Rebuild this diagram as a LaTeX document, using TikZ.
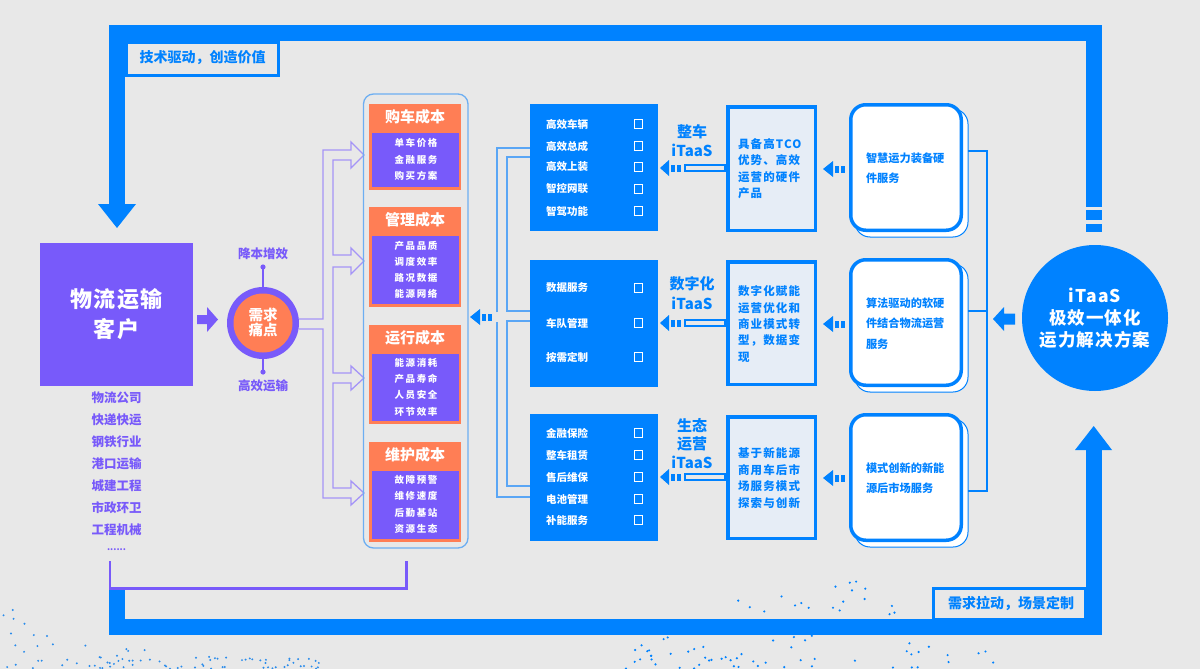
\documentclass[tikz,border=0pt]{standalone}
\usepackage{fontspec}
\setmainfont{Noto Sans CJK SC}
\newfontfamily\cjksp[LetterSpace=16]{Noto Sans CJK SC}
\newfontfamily\cjkmid[LetterSpace=10]{Noto Sans CJK SC}
\newfontfamily\cjkwide[LetterSpace=6]{Noto Sans CJK SC}
\usetikzlibrary{calc}
\definecolor{bg}{HTML}{E8E8E8}
\definecolor{mblue}{HTML}{0082FF}
\definecolor{lblue}{HTML}{E6EDF6}
\definecolor{brline}{HTML}{5AA6F5}
\definecolor{cline}{HTML}{6CAEF2}
\definecolor{purp}{HTML}{785AFA}
\definecolor{lpurp}{HTML}{A594F7}
\definecolor{orng}{HTML}{FF7E55}
\definecolor{dotc}{HTML}{2A8CEB}
\tikzset{
  every node/.style={inner sep=0pt, outer sep=0pt},
  band/.style={draw=mblue, line width=16pt, line join=miter},
  tagbox/.style={draw=mblue, line width=3pt, fill=bg},
  tagtext/.style={text=mblue, font=\bfseries\fontsize{14}{16}\selectfont},
  custbox/.style={fill=purp, anchor=north west, minimum width=153pt, minimum height=143pt},
  listtext/.style={text=purp, font=\bfseries\fontsize{12.5}{14}\selectfont},
  costhead/.style={fill=orng, anchor=north west, minimum width=92pt, minimum height=26pt, text=white, font=\bfseries\fontsize{15}{17}\selectfont},
  costbody/.style={fill=purp, draw=orng, line width=2.5pt, anchor=north west, minimum width=89.5pt},
  costitem/.style={text=white, font=\cjksp\bfseries\fontsize{9.5}{11}\selectfont},
  bluebox/.style={fill=mblue, anchor=north west, minimum width=128pt, minimum height=127pt},
  itemtext/.style={text=white, font=\bfseries\fontsize{10.5}{12}\selectfont, anchor=west},
  chk/.style={draw=white, line width=0.9pt},
  itaas/.style={text=mblue, align=center, font=\bfseries\fontsize{15}{18.5}\selectfont},
  lightbox/.style={fill=lblue, draw=mblue, line width=3.5pt, anchor=north west, minimum width=87.5pt},
  lighttext/.style={text=mblue, align=left, anchor=west, font=\cjkmid\bfseries\fontsize{11.5}{16.4}\selectfont},
  whitebox/.style={fill=white, draw=mblue, line width=3.5pt, rounded corners=15pt, anchor=north west, minimum width=110.5pt, minimum height=125.5pt},
  wshadow/.style={fill=white, draw=mblue, line width=1pt, rounded corners=15pt},
  whitetext/.style={text=mblue, align=left, anchor=west, font=\bfseries\fontsize{11.2}{20.5}\selectfont},
  pline/.style={draw=lpurp, line width=1.3pt, line join=miter},
  bline/.style={draw=brline, line width=1.3pt},
  dasharrow/.pic={
    \fill[mblue] (0,0) -- (10,-8) -- (10,8) -- cycle;
    \fill[mblue] (12,-3.5) rectangle (16,3.5);
    \fill[mblue] (18,-3.5) rectangle (22,3.5);
  },
  longarrow/.pic={
    \fill[mblue] (0,0) -- (9,-8) -- (9,8) -- cycle;
    \fill[mblue] (11,-3.5) rectangle (15,3.5);
    \fill[mblue] (17,-3.5) rectangle (21,3.5);
    \draw[mblue, line width=1.8pt] (25,-3.2) rectangle (65,3.2);
  }
}
\begin{document}
\begin{tikzpicture}[x=1pt,y=-1pt]
\path[fill=bg] (0,0) rectangle (1200,669);
\useasboundingbox (0,0) rectangle (1200,669);

% decorative dots
\pgfmathsetseed{12}
\foreach \i in {1,...,85}{
  \pgfmathsetmacro{\dx}{rnd*330}
  \pgfmathsetmacro{\tp}{598+62*(1-exp(-\dx/80))}
  \pgfmathsetmacro{\dy}{\tp+rnd*(669-\tp)}
  \fill[dotc] (\dx,\dy) circle (1.1);
}
\foreach \i in {1,...,95}{
  \pgfmathsetmacro{\dx}{620+rnd*380}
  \pgfmathsetmacro{\tp}{575+0.0012*(\dx-880)*(\dx-880)}
  \pgfmathsetmacro{\dy}{\tp+rnd*(669-\tp)}
  \fill[mblue] (\dx,\dy) circle (1.2);
}

% outer loop bands
\draw[band] (117,205) -- (117,33) -- (1093.7,33) -- (1093.7,207);
\fill[mblue] (98,204) -- (136,204) -- (117,228) -- cycle;
\fill[mblue] (1085.7,210) rectangle (1101.7,220);
\fill[mblue] (1085.7,224) rectangle (1101.7,232);
\draw[band] (117,588) -- (117,627) -- (1093.7,627) -- (1093.7,450);
\fill[mblue] (1075,450) -- (1112,450) -- (1093.7,426) -- cycle;

% tags
\draw[tagbox] (126.5,42.5) rectangle (278.5,75.5);
\node[tagtext] (tagtop) at (202.5,58) {技术驱动，创造价值};
\draw[tagbox] (933.2,588.1) rectangle (1085,619);
\node[tagtext] (tagbot) at (1011,603) {需求拉动，场景定制};

% customer
\node[custbox] (cust) at (40,243) {};
\node[text=white, align=center, font=\cjkwide\bfseries\fontsize{22}{30}\selectfont] (custt) at (cust.center) {物流运输\\客户};
\foreach \t [count=\k from 0] in {物流公司,快递快运,钢铁行业,港口运输,城建工程,市政环卫,工程机械}{
  \node[listtext] at (116.5,398+22*\k) {\t};
}
\node[listtext, font=\bfseries\fontsize{9}{10}\selectfont] (dots) at (116.5,550) {......};
\draw[draw=purp, line width=2.5pt, line join=miter] (110,561) -- (110,588.5) -- (406.5,588.5) -- (406.5,561);

% arrow customer -> pain
\fill[purp] (197,315) -- (207,315) -- (207,307) -- (218,319.5) -- (207,332) -- (207,324) -- (197,324) -- cycle;

% pain point
\node[circle, fill=purp, minimum size=72pt] (pain) at (263,323) {};
\node[circle, fill=orng, minimum size=59pt] (painin) at (263,323) {};
\node[text=white, align=center, font=\bfseries\fontsize{14.5}{15.5}\selectfont] at (263,322.5) {需求\\痛点};
\draw[purp, line width=1.6pt] (pain.north) -- (263,267);
\fill[purp] (263,267) circle (2.6);
\draw[purp, line width=1.6pt] (pain.south) -- (263,372);
\fill[purp] (263,372) circle (2.6);
\node[listtext] (up) at (263,254) {降本增效};
\node[listtext] (down) at (263,386) {高效运输};

% purple hollow arrows
\draw[pline] (298.8,319) -- (323,319) -- (323,150) -- (351,150) -- (351,142) -- (364,155) -- (351,168) -- (351,160) -- (333,160) -- (333,255) -- (351,255) -- (351,248) -- (364,261) -- (351,274) -- (351,267) -- (333,267) -- (333,373) -- (351,373) -- (351,366) -- (364,378) -- (351,390) -- (351,383) -- (333,383) -- (333,488) -- (351,488) -- (351,481) -- (364,493) -- (351,505) -- (351,498) -- (323,498) -- (323,329) -- (298.8,329);

% cost container
\draw[cline, line width=1.3pt, rounded corners=10pt] (363.5,94) rectangle (468,548);
\node[costhead] (h1) at (369,104) {购车成本};
\node[costbody, minimum height=57pt] (b1) at (370.25,131.25) {};
\node[costhead] (h2) at (369,207) {管理成本};
\node[costbody, minimum height=71pt] (b2) at (370.25,234.25) {};
\node[costhead] (h3) at (369,325) {运行成本};
\node[costbody, minimum height=70pt] (b3) at (370.25,352.25) {};
\node[costhead] (h4) at (369,442) {维护成本};
\node[costbody, minimum height=71pt] (b4) at (370.25,469.25) {};
\foreach \t/\y in {单车价格/143,金融服务/160,购买方案/176,产品品质/246,调度效率/262,路况数据/278,能源网络/294,能源消耗/363,产品寿命/379,人员安全/395,环节效率/412,故障预警/480,维修速度/496,后勤基站/513,资源生态/529}{
  \node[costitem] at (416,\y) {\t};
}

% arrow to cost container
\pic at (470,317) {dasharrow};

% blue bracket
\draw[bline] (497,312) -- (497,148) -- (530,148);
\draw[bline] (530,157) -- (507,157) -- (507,311) -- (530,311);
\draw[bline] (530,321) -- (507,321) -- (507,486) -- (530,486);
\draw[bline] (530,497) -- (497,497) -- (497,322);

% blue list boxes
\node[bluebox] (L1) at (530,104) {};
\node[bluebox] (L2) at (530,259.5) {};
\node[bluebox] (L3) at (530,414) {};
\foreach \t/\y in {高效车辆/124,高效总成/146,高效上装/167,智控网联/189,智驾功能/211,数据服务/288,车队管理/323,按需定制/357,金融保险/433,整车租赁/455,售后维保/477,电池管理/499,补能服务/520}{
  \node[itemtext] at (546,\y) {\t};
  \draw[chk] (634,\y-4.2) rectangle ++(8.5,8.5);
}
\node[itaas] (i1) at (692,140.5) {整车\\iTaaS};
\node[itaas, font=\bfseries\fontsize{15}{20}\selectfont] (i2) at (692,293) {数字化\\iTaaS};
\node[itaas] (i3) at (692,443.5) {生态\\运营\\iTaaS};

% light boxes
\node[lightbox, minimum height=123.5pt] (M1) at (727.75,106.75) {};
\node[lightbox, minimum height=122.5pt] (M2) at (727.75,261.75) {};
\node[lightbox, minimum height=121.5pt] (M3) at (727.75,416.75) {};
\node[lighttext] at (738,168.5) {具备高TCO\\优势、高效\\运营的硬件\\产品};
\node[lighttext] at (738,324) {数字化赋能\\运营优化和\\商业模式转\\型，数据变\\现};
\node[lighttext] at (738,478) {基于新能源\\商用车后市\\场服务模式\\探索与创新};
\pic at (660,168) {longarrow};
\pic at (660,323) {longarrow};
\pic at (660,477) {longarrow};

% white boxes
\foreach \y in {103,258,413}{
  \draw[wshadow] (855,\y+6) rectangle (968,\y+134);
}
\node[whitebox] (W1) at (850.75,104.75) {};
\node[whitebox] (W2) at (850.75,259.75) {};
\node[whitebox] (W3) at (850.75,414.75) {};
\node[whitetext] at (866,168) {智慧运力装备硬\\件服务};
\node[whitetext] at (866,323.5) {算法驱动的软硬\\件结合物流运营\\服务};
\node[whitetext] at (866,478) {模式创新的新能\\源后市场服务};
\pic at (823,169) {dasharrow};
\pic at (823,324) {dasharrow};
\pic at (823,478) {dasharrow};

% right bracket
\draw[mblue, line width=2.5pt] (968,151) -- (987,151) -- (987,491) -- (968,491);
\draw[mblue, line width=2.5pt] (968,311) -- (987,311);

% solution circle
\node[circle, fill=mblue, minimum size=146pt] (sol) at (1095,318) {};
\node[text=white, align=center, font=\cjkwide\bfseries\fontsize{17.5}{22}\selectfont] at (1095,318) {iTaaS\\极效一体化\\运力解决方案};
\fill[mblue] (993,319) -- (1004,307) -- (1004,313.5) -- (1015,313.5) -- (1015,324.5) -- (1004,324.5) -- (1004,331) -- cycle;
\end{tikzpicture}
\end{document}
